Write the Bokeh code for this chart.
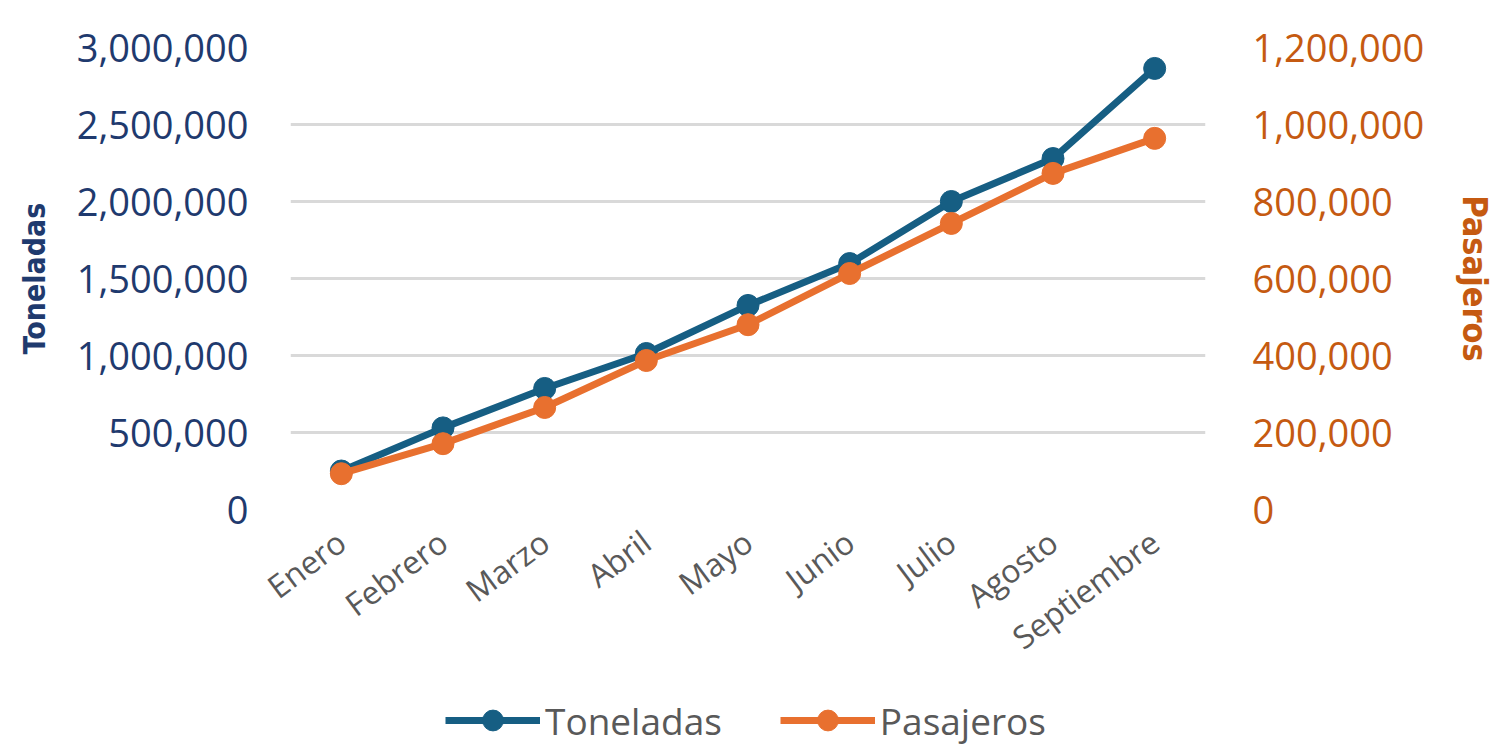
from bokeh.plotting import figure
from bokeh.layouts import column
from bokeh.models import (Range1d, LinearAxis, SingleIntervalTicker, NumeralTickFormatter,
                          Legend, LegendItem, ColumnDataSource, FactorRange)
from bokeh.embed import file_html
from bokeh.resources import INLINE

months = ["Enero", "Febrero", "Marzo", "Abril", "Mayo", "Junio", "Julio", "Agosto", "Septiembre"]
toneladas = [250000, 530000, 786000, 1013000, 1325000, 1597000, 2000000, 2279000, 2864000]
pasajeros = [93000, 171000, 265000, 387000, 480000, 613000, 743000, 873000, 964000]
series_names = ["Toneladas", "Pasajeros"]

BLUE = "#165E83"
ORANGE = "#E8702F"
NAVY = "#1F3A6E"
RUST = "#C55A11"
GRAY = "#595959"
GRID = "#D9D9D9"

src = ColumnDataSource(dict(m=months, t=toneladas, p=pasajeros))

W = 1505
p = figure(width=W, height=680, x_range=FactorRange(*months), y_range=Range1d(0, 3000000),
           output_backend="svg", toolbar_location=None,
           min_border_left=290, min_border_right=W - 1205, min_border_top=47, min_border_bottom=171)
p.extra_y_ranges = {"pas": Range1d(0, 1200000)}
p.outline_line_color = None
p.background_fill_color = "white"
p.border_fill_color = "white"

# left axis
ya = p.yaxis[0]
ya.ticker = SingleIntervalTicker(interval=500000)
ya.formatter = NumeralTickFormatter(format="0,0")
ya.axis_line_color = None
ya.major_tick_line_color = None
ya.minor_tick_line_color = None
ya.major_label_text_font = "Open Sans"
ya.major_label_text_font_size = "38px"
ya.major_label_text_color = NAVY
ya.major_label_standoff = 36
ya.axis_label = series_names[0]
ya.axis_label_text_font = "DejaVu Sans Condensed"
ya.axis_label_text_font_style = "bold"
ya.axis_label_text_font_size = "30px"
ya.axis_label_text_color = NAVY
ya.axis_label_standoff = 22

# right axis
ra = LinearAxis(y_range_name="pas", ticker=SingleIntervalTicker(interval=200000),
                formatter=NumeralTickFormatter(format="0,0"))
ra.axis_line_color = None
ra.major_tick_line_color = None
ra.minor_tick_line_color = None
ra.major_label_text_font = "Open Sans"
ra.major_label_text_font_size = "38px"
ra.major_label_text_color = RUST
ra.major_label_standoff = 41
ra.axis_label = series_names[1]
ra.axis_label_text_font = "DejaVu Sans Condensed"
ra.axis_label_text_font_style = "bold"
ra.axis_label_text_font_size = "34px"
ra.axis_label_text_color = RUST
ra.axis_label_standoff = 28
p.add_layout(ra, "right")

# x axis
xa = p.xaxis[0]
xa.axis_line_color = None
xa.major_tick_line_color = None
xa.minor_tick_line_color = None
xa.major_label_text_font = "Open Sans"
xa.major_label_text_font_size = "32px"
xa.major_label_text_color = GRAY
xa.major_label_orientation = 0.64
xa.major_label_standoff = 22

p.xgrid.grid_line_color = None
p.ygrid.grid_line_color = GRID
p.ygrid.grid_line_width = 3
p.ygrid.ticker = SingleIntervalTicker(interval=500000)

p.line("m", "t", source=src, line_color=BLUE, line_width=7)
p.scatter("m", "t", source=src, size=22, fill_color=BLUE, line_color=BLUE)
p.line("m", "p", source=src, line_color=ORANGE, line_width=7, y_range_name="pas")
p.scatter("m", "p", source=src, size=22, fill_color=ORANGE, line_color=ORANGE, y_range_name="pas")

# legend strip: same series, drawn outside this strip's visible range, only their legend keys show
lf = figure(width=W, height=68, x_range=FactorRange(*months), y_range=Range1d(-2, -1),
            output_backend="svg", toolbar_location=None, min_border=0)
lf.axis.visible = False
lf.grid.visible = False
lf.outline_line_color = None
lf.border_fill_color = "white"
pl1 = lf.line("m", "t", source=src, line_color=BLUE, line_width=7)
pc1 = lf.scatter("m", "t", source=src, size=22, fill_color=BLUE, line_color=BLUE)
pl2 = lf.line("m", "p", source=src, line_color=ORANGE, line_width=7)
pc2 = lf.scatter("m", "p", source=src, size=22, fill_color=ORANGE, line_color=ORANGE)

legend = Legend(items=[LegendItem(label=series_names[0], renderers=[pl1, pc1]),
                       LegendItem(label=series_names[1], renderers=[pl2, pc2])],
                orientation="horizontal", location=(155, 2),
                label_text_font="Open Sans", label_text_font_size="37px", label_text_color=GRAY,
                glyph_width=95, glyph_height=52, label_standoff=5, spacing=58,
                border_line_color=None, background_fill_alpha=0, padding=4, margin=0)
lf.add_layout(legend, "center")

layout = column(p, lf, spacing=0)
open("out.html", "w").write(file_html(layout, INLINE))
